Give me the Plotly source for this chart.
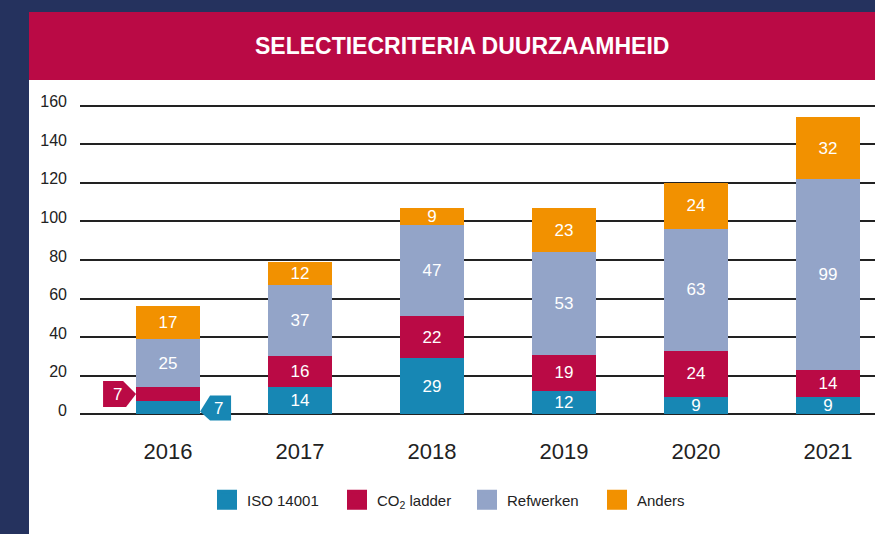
import plotly.graph_objects as go

# ---------------- data ----------------
years = ["2016", "2017", "2018", "2019", "2020", "2021"]
iso = [7, 14, 29, 12, 9, 9]
co2 = [7, 16, 22, 19, 24, 14]
refwerken = [25, 37, 47, 53, 63, 99]
anders = [17, 12, 9, 23, 24, 32]
series_names = ["ISO 14001", "CO<sub>2</sub> ladder", "Refwerken", "Anders"]
series_colors = ["#1787b4", "#ba0a45", "#93a4c8", "#f29100"]
y_ticks = [0, 20, 40, 60, 80, 100, 120, 140, 160]
title_text = "SELECTIECRITERIA DUURZAAMHEID"

# ---------------- layout constants ----------------
W, H = 875, 534
ML, MR, MT, MB = 80, 0, 96, 110
PW, PH = W - ML - MR, H - MT - MB
FONT = "Liberation Sans, Arial, sans-serif"
NAVY = "#25325e"
RED = "#ba0a45"


def px(x):
    return (x - ML) / PW


def py(y):
    return (H - MB - y) / PH


fig = go.Figure()

series = [iso, co2, refwerken, anders]
for i, (name, vals, col) in enumerate(zip(series_names, series, series_colors)):
    texts = [str(v) for v in vals]
    if i < 2:
        texts[0] = ""  # 2016 small segments are labelled with call-out tags
    fig.add_trace(go.Bar(
        x=years, y=vals, name=name, marker=dict(color=col, line=dict(width=0)),
        text=texts, textposition="inside", insidetextanchor="middle",
        constraintext="none", textangle=0,
        textfont=dict(family=FONT, size=17, color="white"),
        width=0.48, showlegend=False, hoverinfo="skip",
    ))
    # legend proxy (larger square swatch)
    fig.add_trace(go.Scatter(
        x=[None], y=[None], mode="markers", name=name,
        marker=dict(symbol="square", size=16, color=col, line=dict(color=col, width=4)),
        showlegend=True,
    ))

# call-out tags for 2016 (category index of the first year)
first = years.index(years[0])
co2_mid = iso[0] + co2[0] / 2
iso_mid = iso[0] / 2
fig.add_shape(type="path", xref="x", yref="y", xsizemode="pixel", ysizemode="pixel",
              xanchor=first, yanchor=co2_mid,
              path="M -65,13 L -45,13 L -32,0 L -42,-13 L -65,-13 Z",
              fillcolor=series_colors[1], line=dict(width=0), layer="above")
fig.add_shape(type="path", xref="x", yref="y", xsizemode="pixel", ysizemode="pixel",
              xanchor=first, yanchor=iso_mid,
              path="M 42,12 L 63,12 L 63,-13 L 42,-13 L 32,-4 Z",
              fillcolor=series_colors[0], line=dict(width=0), layer="above")
fig.add_annotation(x=first, y=co2_mid, xref="x", yref="y", text=str(co2[0]),
                   showarrow=False, xshift=-51, yshift=0,
                   font=dict(family=FONT, size=17, color="white"))
fig.add_annotation(x=first, y=iso_mid, xref="x", yref="y", text=str(iso[0]),
                   showarrow=False, xshift=50, yshift=-1,
                   font=dict(family=FONT, size=17, color="white"))

# background panels
fig.add_shape(type="rect", xref="paper", yref="paper", x0=px(29), x1=1.0,
              y0=py(H), y1=py(80), fillcolor="white", line=dict(width=0), layer="below")
fig.add_shape(type="rect", xref="paper", yref="paper", x0=px(29), x1=1.0,
              y0=py(80), y1=py(12), fillcolor=RED, line=dict(width=0), layer="below")

fig.add_annotation(x=px(462), y=py(46), xref="paper", yref="paper",
                   text="<b>" + title_text + "</b>", showarrow=False,
                   xanchor="center", yanchor="middle",
                   font=dict(family=FONT, size=23, color="white"))

fig.update_layout(
    width=W, height=H,
    margin=dict(l=ML, r=MR, t=MT, b=MB, pad=0),
    paper_bgcolor=NAVY, plot_bgcolor="white",
    barmode="stack", bargap=0.52,
    showlegend=True,
    legend=dict(orientation="h", x=px(207), xanchor="left", y=py(500), yanchor="middle",
                font=dict(family=FONT, size=15, color="#222"),
                itemsizing="trace", entrywidth=85, entrywidthmode="pixels",
                bgcolor="rgba(0,0,0,0)", traceorder="normal"),
    xaxis=dict(type="category", range=[-0.667, 5.356], showgrid=False, zeroline=False,
               showline=False, ticks="", ticklabelstandoff=12,
               tickfont=dict(family=FONT, size=22, color="#222"), fixedrange=True),
    yaxis=dict(range=[-5, 165], tickvals=y_ticks, showgrid=True, gridcolor="#222",
               gridwidth=1.6, zeroline=True, zerolinecolor="#222", zerolinewidth=1.6,
               showline=False, ticks="", ticklabelstandoff=12, ticklabelshift=-4,
               tickfont=dict(family=FONT, size=16, color="#222"), fixedrange=True),
)

fig.write_html("out.html", config={"displayModeBar": False},
               post_script="document.body.style.margin='0';document.body.style.overflow='hidden';")
